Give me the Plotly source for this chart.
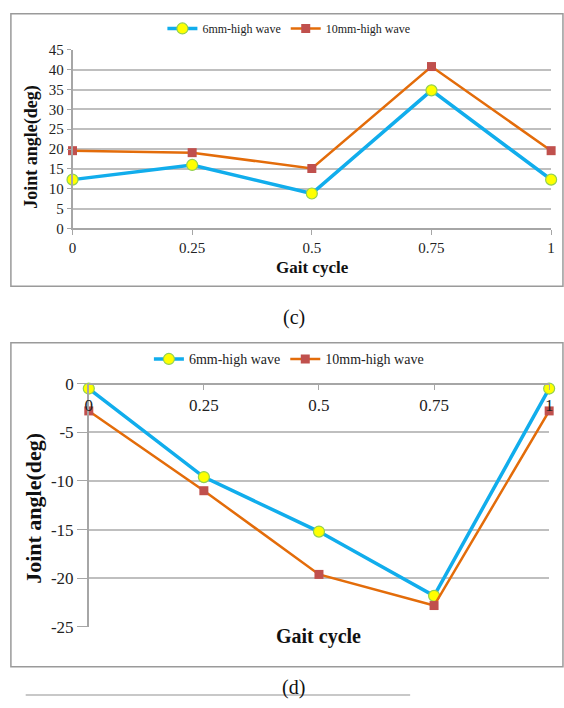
import plotly.graph_objects as go

# ---------------- data ----------------
gait = [0, 0.25, 0.5, 0.75, 1]
gait_labels = ["0", "0.25", "0.5", "0.75", "1"]
c_6mm = [12.3, 16.0, 8.8, 34.8, 12.3]
c_10mm = [19.6, 19.1, 15.1, 40.8, 19.6]
d_6mm = [-0.5, -9.6, -15.2, -21.8, -0.5]
d_10mm = [-2.8, -11.0, -19.6, -22.8, -2.8]
series_names = ["6mm-high wave", "10mm-high wave"]
d_ytick_vals = [0, -5, -10, -15, -20, -25]
d_ytick_labels = ["0", "-5", "-10", "-15", "-20", "-25"]

W, H = 564, 708
def px(p):
    return p / W
def py(p):
    return 1 - p / H

FONT = "Liberation Serif"
BLUE = "#11adec"
ORANGE = "#e36c0a"
RED = "#c0504d"
YELLOW = "#ffff00"
GREEN = "#92d050"
GRID = "#bfbfbf"
AXIS = "#a6a6a6"

fig = go.Figure()

def add_pair(y6, y10, xa, ya, leg):
    fig.add_trace(go.Scatter(
        x=gait, y=y6, xaxis=xa, yaxis=ya, legend=leg, name=series_names[0],
        mode="lines+markers", cliponaxis=False,
        line=dict(color=BLUE, width=3.5),
        marker=dict(symbol="circle", size=11, color=YELLOW,
                    line=dict(color=GREEN, width=1.2))))
    fig.add_trace(go.Scatter(
        x=gait, y=y10, xaxis=xa, yaxis=ya, legend=leg, name=series_names[1],
        mode="lines+markers", cliponaxis=False,
        line=dict(color=ORANGE, width=2.5),
        marker=dict(symbol="square", size=9, color=RED,
                    line=dict(color=RED, width=0))))

add_pair(c_6mm, c_10mm, "x", "y", "legend")
add_pair(d_6mm, d_10mm, "x2", "y2", "legend2")

axis_common = dict(showline=True, linecolor=AXIS, linewidth=1.5,
                   ticks="outside", tickcolor=AXIS, tickwidth=1.2,
                   zeroline=False, fixedrange=True)

fig.update_layout(
    width=W, height=H,
    margin=dict(l=0, r=0, t=0, b=0),
    paper_bgcolor="white", plot_bgcolor="white",
    font=dict(family=FONT, color="#222222"),
    showlegend=True,
    xaxis=dict(domain=[px(69.5), px(555)], range=[0, 1], anchor="y",
               tickvals=gait, ticktext=gait_labels, ticklen=5,
               showgrid=False, tickfont=dict(size=15, family=FONT),
               **axis_common),
    yaxis=dict(domain=[py(225.5), py(42)], range=[0, 45], dtick=5,
               anchor="x", ticklen=4, showgrid=True, gridcolor=GRID,
               gridwidth=1.5, tickfont=dict(size=15, family=FONT),
               **axis_common),
    xaxis2=dict(domain=[px(86), px(553)], range=[0, 1], anchor="free",
                position=py(385), side="bottom",
                tickvals=gait, ticktext=gait_labels, ticklen=6,
                showgrid=False, tickfont=dict(size=17, family=FONT),
                **axis_common),
    yaxis2=dict(domain=[py(635), py(385)], range=[-25, 0],
                tickvals=d_ytick_vals, ticktext=d_ytick_labels,
                anchor="x2", ticklen=10, showgrid=True, gridcolor=GRID,
                gridwidth=1.5, tickfont=dict(size=17, family=FONT),
                **axis_common),
    legend=dict(orientation="h", x=px(289), xanchor="center",
                y=py(20), yanchor="middle", font=dict(size=12, family=FONT),
                bgcolor="rgba(0,0,0,0)", itemwidth=30),
    legend2=dict(orientation="h", x=px(289), xanchor="center",
                 y=py(360), yanchor="middle", font=dict(size=14, family=FONT),
                 bgcolor="rgba(0,0,0,0)", itemwidth=30),
)

# frames around the two charts and bottom rule
fig.add_shape(type="rect", xref="paper", yref="paper",
              x0=px(7), x1=px(567), y0=py(285), y1=py(5),
              line=dict(color="#9a9a9a", width=1.5), layer="below")
fig.add_shape(type="rect", xref="paper", yref="paper",
              x0=px(7), x1=px(567), y0=py(676), y1=py(343),
              line=dict(color="#9a9a9a", width=1.5), layer="below")
fig.add_shape(type="line", xref="paper", yref="paper",
              x0=px(22), x1=px(412), y0=py(705), y1=py(705),
              line=dict(color="#c8c8c8", width=2))

def ann(text, x, y, size, bold=False, angle=0):
    fig.add_annotation(text=("<b>%s</b>" % text) if bold else text,
                       x=px(x), y=py(y), xref="paper", yref="paper",
                       xanchor="center", yanchor="middle", showarrow=False,
                       textangle=angle,
                       font=dict(size=size, family=FONT, color="#111111"))

ann("Joint angle(deg)", 28, 142, 18, bold=True, angle=-90)
ann("Gait cycle", 313, 266, 17, bold=True)
ann("(c)", 294, 317, 20)
ann("Joint angle(deg)", 30, 513, 22, bold=True, angle=-90)
ann("Gait cycle", 319, 645, 20, bold=True)
ann("(d)", 294, 697, 20)

fig.write_html("out.html",
               config={"displayModeBar": False},
               post_script="document.body.style.margin='0';"
                           "document.body.style.overflow='hidden';")
